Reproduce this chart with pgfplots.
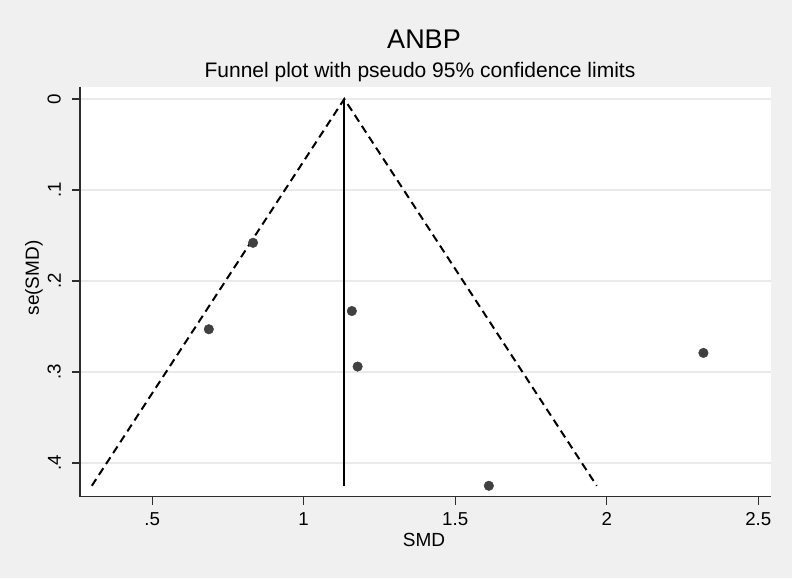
\documentclass[border=0pt]{standalone}
\usepackage{fontspec}
\setmainfont{Liberation Sans}
\usepackage{pgfplots}
\pgfplotsset{compat=1.18}
\definecolor{bgc}{RGB}{240,240,240}
\definecolor{gridc}{RGB}{234,234,234}
\definecolor{dotc}{RGB}{64,64,64}
\definecolor{axc}{RGB}{45,45,45}
\begin{document}
\begin{tikzpicture}
\fill[bgc] (0pt,0pt) rectangle (792pt,578pt);
\begin{axis}[
  at={(80pt,81.3pt)}, anchor=south west,
  scale only axis, width=691pt, height=410pt,
  xmin=0.262, xmax=2.542, ymin=-0.0135, ymax=0.437,
  y dir=reverse,
  axis background/.style={fill=white},
  axis line style={draw=none},
  xtick={0.5,1,1.5,2,2.5}, xticklabels={.5,1,1.5,2,2.5},
  ytick={0,0.1,0.2,0.3,0.4}, yticklabels={0,.1,.2,.3,.4},
  tick align=outside, major tick length=8pt,
  xtick pos=bottom, ytick pos=left,
  every tick/.style={axc, line width=1.2pt},
  ymajorgrids, grid style={gridc, line width=1.5pt},
  tick label style={font=\fontsize{18.7}{21}\selectfont},
  yticklabel style={rotate=90, anchor=south, inner sep=11pt},
  xticklabel style={inner sep=8pt},
  /pgf/number format/assume math mode=true,
  clip=false,
]
\addplot[black, line width=2pt, dash pattern=on 8pt off 5pt] coordinates {(0.301,0.425) (1.134,0) (1.967,0.425)};
\addplot[black, line width=1.8pt] coordinates {(1.134,0) (1.134,0.425)};
\addplot[only marks, mark=*, mark size=4.8pt, dotc, mark options={draw=dotc, fill=dotc}] coordinates {
  (0.833,0.158) (0.687,0.253) (1.159,0.233) (1.178,0.294) (2.319,0.279) (1.611,0.425)};
\draw[axc, line width=1.3pt] (axis description cs:0,1) -- (axis description cs:0,0) -- (axis description cs:1,0);
\end{axis}
\node[font=\fontsize{27}{30}\selectfont] at (424pt,539pt) {ANBP};
\node[font=\fontsize{21}{24}\selectfont] at (420pt,506pt) {Funnel plot with pseudo 95\% confidence limits};
\node[font=\fontsize{19}{21}\selectfont] at (424pt,38pt) {SMD};
\node[font=\fontsize{19}{21}\selectfont, rotate=90] at (34pt,300pt) {se(SMD)};
\end{tikzpicture}
\end{document}
